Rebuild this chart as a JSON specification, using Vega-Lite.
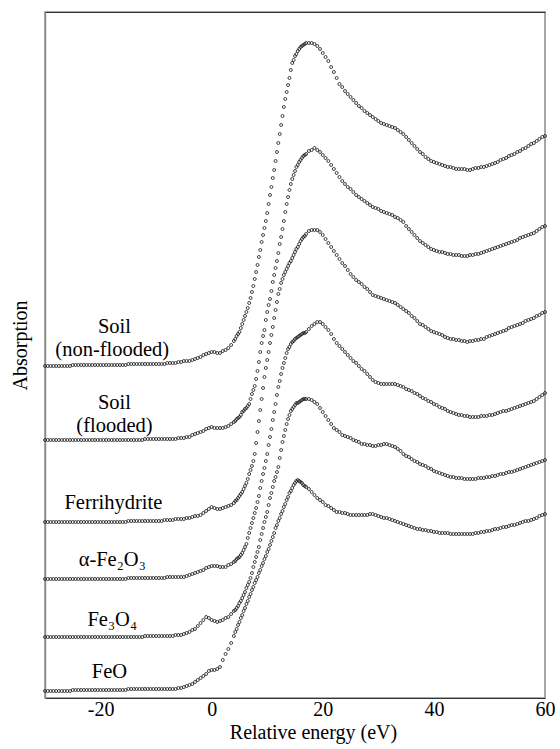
{
"$schema":"https://vega.github.io/schema/vega-lite/v6.json",
"width":500,"height":686,
"autosize":{"type":"none"},
"padding":{"left":45,"top":12,"right":15,"bottom":51},
"background":"white",
"config":{"view":{"stroke":"#8c8c8c","strokeWidth":1.5},"font":"Liberation Serif, Tinos, Times New Roman, Times, DejaVu Serif, serif"},
"datasets":{
"N":[{"e":-30,"a":332},{"e":-29.5,"a":332},{"e":-29,"a":332},{"e":-28.5,"a":332},{"e":-28,"a":332},{"e":-27.5,"a":332},{"e":-27,"a":332},{"e":-26.5,"a":332},{"e":-26,"a":332},{"e":-25.5,"a":332},{"e":-25,"a":333},{"e":-24.5,"a":333},{"e":-24,"a":333},{"e":-23.5,"a":333},{"e":-23,"a":333},{"e":-22.5,"a":333},{"e":-22,"a":333},{"e":-21.5,"a":333},{"e":-21,"a":333},{"e":-20.5,"a":333},{"e":-20,"a":333},{"e":-19.5,"a":333},{"e":-19,"a":333},{"e":-18.5,"a":333},{"e":-18,"a":333},{"e":-17.5,"a":333},{"e":-17,"a":333},{"e":-16.5,"a":333},{"e":-16,"a":333},{"e":-15.5,"a":333},{"e":-15,"a":334},{"e":-14.5,"a":334},{"e":-14,"a":334},{"e":-13.5,"a":334},{"e":-13,"a":334},{"e":-12.5,"a":334},{"e":-12,"a":334},{"e":-11.5,"a":334},{"e":-11,"a":334},{"e":-10.5,"a":334},{"e":-10,"a":334},{"e":-9.5,"a":334},{"e":-9,"a":334},{"e":-8.5,"a":334},{"e":-8,"a":335},{"e":-7.5,"a":335},{"e":-7,"a":335},{"e":-6.5,"a":335},{"e":-6,"a":336},{"e":-5.5,"a":336},{"e":-5,"a":337},{"e":-4.5,"a":337},{"e":-4,"a":337},{"e":-3.5,"a":338},{"e":-3,"a":339},{"e":-2.5,"a":340},{"e":-2,"a":341},{"e":-1.5,"a":343},{"e":-1,"a":344},{"e":-0.5,"a":345},{"e":0,"a":346},{"e":0.5,"a":346},{"e":1,"a":345},{"e":1.5,"a":345},{"e":2,"a":347},{"e":2.5,"a":348},{"e":3,"a":350},{"e":3.5,"a":353},{"e":4,"a":357},{"e":4.25,"a":359},{"e":4.5,"a":362},{"e":4.75,"a":364},{"e":5,"a":366},{"e":5.25,"a":370},{"e":5.5,"a":374},{"e":5.75,"a":378},{"e":6,"a":382},{"e":6.25,"a":386},{"e":6.5,"a":390},{"e":6.75,"a":395},{"e":7,"a":400},{"e":7.25,"a":406},{"e":7.5,"a":412},{"e":7.75,"a":419},{"e":8,"a":426},{"e":8.25,"a":433},{"e":8.5,"a":441},{"e":8.75,"a":448},{"e":9,"a":456},{"e":9.25,"a":463},{"e":9.5,"a":470},{"e":9.75,"a":477},{"e":10,"a":485},{"e":10.25,"a":494},{"e":10.5,"a":503},{"e":10.75,"a":511},{"e":11,"a":520},{"e":11.25,"a":528},{"e":11.5,"a":537},{"e":11.75,"a":546},{"e":12,"a":555},{"e":12.25,"a":564},{"e":12.5,"a":573},{"e":12.75,"a":582},{"e":13,"a":591},{"e":13.25,"a":599},{"e":13.5,"a":606},{"e":13.75,"a":613},{"e":14,"a":620},{"e":14.25,"a":628},{"e":14.5,"a":635},{"e":14.75,"a":638},{"e":15,"a":642},{"e":15.25,"a":644},{"e":15.5,"a":647},{"e":15.75,"a":649},{"e":16,"a":651},{"e":16.25,"a":652},{"e":16.5,"a":653},{"e":16.75,"a":654},{"e":17,"a":655},{"e":17.5,"a":655},{"e":18,"a":655},{"e":18.5,"a":654},{"e":19,"a":652},{"e":19.5,"a":649},{"e":20,"a":645},{"e":20.5,"a":641},{"e":21,"a":637},{"e":21.5,"a":631},{"e":22,"a":626},{"e":22.5,"a":620},{"e":23,"a":614},{"e":23.5,"a":611},{"e":24,"a":607},{"e":24.5,"a":604},{"e":25,"a":601},{"e":25.5,"a":598},{"e":26,"a":595},{"e":26.5,"a":592},{"e":27,"a":590},{"e":27.5,"a":587},{"e":28,"a":585},{"e":28.5,"a":583},{"e":29,"a":581},{"e":29.5,"a":579},{"e":30,"a":577},{"e":30.5,"a":575},{"e":31,"a":574},{"e":31.5,"a":573},{"e":32,"a":572},{"e":32.5,"a":571},{"e":33,"a":570},{"e":33.5,"a":568},{"e":34,"a":566},{"e":34.5,"a":564},{"e":35,"a":561},{"e":35.5,"a":558},{"e":36,"a":555},{"e":36.5,"a":552},{"e":37,"a":549},{"e":37.5,"a":546},{"e":38,"a":544},{"e":38.5,"a":541},{"e":39,"a":539},{"e":39.5,"a":537},{"e":40,"a":536},{"e":40.5,"a":535},{"e":41,"a":534},{"e":41.5,"a":533},{"e":42,"a":532},{"e":42.5,"a":531},{"e":43,"a":531},{"e":43.5,"a":530},{"e":44,"a":529},{"e":44.5,"a":529},{"e":45,"a":529},{"e":45.5,"a":529},{"e":46,"a":528},{"e":46.5,"a":528},{"e":47,"a":529},{"e":47.5,"a":530},{"e":48,"a":530},{"e":48.5,"a":531},{"e":49,"a":531},{"e":49.5,"a":532},{"e":50,"a":533},{"e":50.5,"a":534},{"e":51,"a":535},{"e":51.5,"a":536},{"e":52,"a":538},{"e":52.5,"a":539},{"e":53,"a":540},{"e":53.5,"a":542},{"e":54,"a":543},{"e":54.5,"a":544},{"e":55,"a":546},{"e":55.5,"a":547},{"e":56,"a":549},{"e":56.5,"a":550},{"e":57,"a":552},{"e":57.5,"a":554},{"e":58,"a":555},{"e":58.5,"a":557},{"e":59,"a":559},{"e":59.5,"a":561},{"e":60,"a":562}],
"F":[{"e":-30,"a":258},{"e":-29.5,"a":258},{"e":-29,"a":258},{"e":-28.5,"a":258},{"e":-28,"a":258},{"e":-27.5,"a":258},{"e":-27,"a":258},{"e":-26.5,"a":258},{"e":-26,"a":258},{"e":-25.5,"a":258},{"e":-25,"a":258},{"e":-24.5,"a":258},{"e":-24,"a":258},{"e":-23.5,"a":258},{"e":-23,"a":258},{"e":-22.5,"a":258},{"e":-22,"a":258},{"e":-21.5,"a":258},{"e":-21,"a":258},{"e":-20.5,"a":258},{"e":-20,"a":258},{"e":-19.5,"a":258},{"e":-19,"a":258},{"e":-18.5,"a":258},{"e":-18,"a":258},{"e":-17.5,"a":258},{"e":-17,"a":258},{"e":-16.5,"a":258},{"e":-16,"a":258},{"e":-15.5,"a":258},{"e":-15,"a":258},{"e":-14.5,"a":258},{"e":-14,"a":258},{"e":-13.5,"a":258},{"e":-13,"a":258},{"e":-12.5,"a":258},{"e":-12,"a":259},{"e":-11.5,"a":259},{"e":-11,"a":259},{"e":-10.5,"a":259},{"e":-10,"a":259},{"e":-9.5,"a":259},{"e":-9,"a":259},{"e":-8.5,"a":259},{"e":-8,"a":259},{"e":-7.5,"a":259},{"e":-7,"a":259},{"e":-6.5,"a":259},{"e":-6,"a":260},{"e":-5.5,"a":260},{"e":-5,"a":260},{"e":-4.5,"a":261},{"e":-4,"a":261},{"e":-3.5,"a":263},{"e":-3,"a":264},{"e":-2.5,"a":265},{"e":-2,"a":266},{"e":-1.5,"a":267},{"e":-1,"a":269},{"e":-0.5,"a":270},{"e":0,"a":271},{"e":0.5,"a":270},{"e":1,"a":270},{"e":1.5,"a":270},{"e":2,"a":270},{"e":2.5,"a":271},{"e":3,"a":272},{"e":3.5,"a":274},{"e":4,"a":276},{"e":4.25,"a":277},{"e":4.5,"a":279},{"e":4.75,"a":280},{"e":5,"a":281},{"e":5.25,"a":283},{"e":5.5,"a":286},{"e":5.75,"a":287},{"e":6,"a":289},{"e":6.25,"a":290},{"e":6.5,"a":292},{"e":6.75,"a":294},{"e":7,"a":299},{"e":7.25,"a":304},{"e":7.5,"a":308},{"e":7.75,"a":312},{"e":8,"a":319},{"e":8.25,"a":327},{"e":8.5,"a":336},{"e":8.75,"a":346},{"e":9,"a":355},{"e":9.25,"a":362},{"e":9.5,"a":368},{"e":9.75,"a":378},{"e":10,"a":386},{"e":10.25,"a":393},{"e":10.5,"a":399},{"e":10.75,"a":407},{"e":11,"a":416},{"e":11.25,"a":423},{"e":11.5,"a":430},{"e":11.75,"a":437},{"e":12,"a":445},{"e":12.25,"a":454},{"e":12.5,"a":461},{"e":12.75,"a":469},{"e":13,"a":477},{"e":13.25,"a":486},{"e":13.5,"a":494},{"e":13.75,"a":501},{"e":14,"a":508},{"e":14.25,"a":514},{"e":14.5,"a":519},{"e":14.75,"a":523},{"e":15,"a":527},{"e":15.25,"a":531},{"e":15.5,"a":533},{"e":15.75,"a":536},{"e":16,"a":538},{"e":16.25,"a":540},{"e":16.5,"a":542},{"e":16.75,"a":543},{"e":17,"a":544},{"e":17.5,"a":547},{"e":18,"a":548},{"e":18.5,"a":550},{"e":19,"a":548},{"e":19.5,"a":546},{"e":20,"a":543},{"e":20.5,"a":540},{"e":21,"a":537},{"e":21.5,"a":533},{"e":22,"a":529},{"e":22.5,"a":525},{"e":23,"a":521},{"e":23.5,"a":517},{"e":24,"a":514},{"e":24.5,"a":511},{"e":25,"a":509},{"e":25.5,"a":506},{"e":26,"a":503},{"e":26.5,"a":501},{"e":27,"a":499},{"e":27.5,"a":497},{"e":28,"a":495},{"e":28.5,"a":493},{"e":29,"a":491},{"e":29.5,"a":490},{"e":30,"a":489},{"e":30.5,"a":487},{"e":31,"a":486},{"e":31.5,"a":485},{"e":32,"a":484},{"e":32.5,"a":483},{"e":33,"a":481},{"e":33.5,"a":480},{"e":34,"a":478},{"e":34.5,"a":476},{"e":35,"a":472},{"e":35.5,"a":469},{"e":36,"a":466},{"e":36.5,"a":463},{"e":37,"a":460},{"e":37.5,"a":457},{"e":38,"a":455},{"e":38.5,"a":453},{"e":39,"a":451},{"e":39.5,"a":449},{"e":40,"a":448},{"e":40.5,"a":447},{"e":41,"a":446},{"e":41.5,"a":446},{"e":42,"a":445},{"e":42.5,"a":444},{"e":43,"a":444},{"e":43.5,"a":443},{"e":44,"a":443},{"e":44.5,"a":443},{"e":45,"a":442},{"e":45.5,"a":442},{"e":46,"a":442},{"e":46.5,"a":443},{"e":47,"a":443},{"e":47.5,"a":444},{"e":48,"a":444},{"e":48.5,"a":445},{"e":49,"a":446},{"e":49.5,"a":447},{"e":50,"a":448},{"e":50.5,"a":449},{"e":51,"a":450},{"e":51.5,"a":451},{"e":52,"a":452},{"e":52.5,"a":453},{"e":53,"a":454},{"e":53.5,"a":455},{"e":54,"a":456},{"e":54.5,"a":457},{"e":55,"a":458},{"e":55.5,"a":460},{"e":56,"a":461},{"e":56.5,"a":462},{"e":57,"a":463},{"e":57.5,"a":464},{"e":58,"a":465},{"e":58.5,"a":467},{"e":59,"a":469},{"e":59.5,"a":471},{"e":60,"a":472}],
"H":[{"e":-30,"a":176},{"e":-29.5,"a":176},{"e":-29,"a":176},{"e":-28.5,"a":176},{"e":-28,"a":176},{"e":-27.5,"a":176},{"e":-27,"a":176},{"e":-26.5,"a":176},{"e":-26,"a":176},{"e":-25.5,"a":176},{"e":-25,"a":176},{"e":-24.5,"a":176},{"e":-24,"a":176},{"e":-23.5,"a":176},{"e":-23,"a":176},{"e":-22.5,"a":176},{"e":-22,"a":176},{"e":-21.5,"a":176},{"e":-21,"a":176},{"e":-20.5,"a":176},{"e":-20,"a":176},{"e":-19.5,"a":176},{"e":-19,"a":176},{"e":-18.5,"a":176},{"e":-18,"a":176},{"e":-17.5,"a":176},{"e":-17,"a":176},{"e":-16.5,"a":176},{"e":-16,"a":176},{"e":-15.5,"a":176},{"e":-15,"a":177},{"e":-14.5,"a":177},{"e":-14,"a":177},{"e":-13.5,"a":177},{"e":-13,"a":177},{"e":-12.5,"a":177},{"e":-12,"a":177},{"e":-11.5,"a":177},{"e":-11,"a":177},{"e":-10.5,"a":177},{"e":-10,"a":177},{"e":-9.5,"a":177},{"e":-9,"a":177},{"e":-8.5,"a":178},{"e":-8,"a":178},{"e":-7.5,"a":178},{"e":-7,"a":178},{"e":-6.5,"a":179},{"e":-6,"a":179},{"e":-5.5,"a":179},{"e":-5,"a":179},{"e":-4.5,"a":180},{"e":-4,"a":180},{"e":-3.5,"a":181},{"e":-3,"a":182},{"e":-2.5,"a":182},{"e":-2,"a":183},{"e":-1.5,"a":185},{"e":-1,"a":187},{"e":-0.5,"a":189},{"e":0,"a":191},{"e":0.5,"a":190},{"e":1,"a":189},{"e":1.5,"a":189},{"e":2,"a":190},{"e":2.5,"a":191},{"e":3,"a":192},{"e":3.5,"a":193},{"e":4,"a":195},{"e":4.25,"a":197},{"e":4.5,"a":198},{"e":4.75,"a":200},{"e":5,"a":202},{"e":5.25,"a":204},{"e":5.5,"a":206},{"e":5.75,"a":209},{"e":6,"a":212},{"e":6.25,"a":215},{"e":6.5,"a":219},{"e":6.75,"a":224},{"e":7,"a":228},{"e":7.25,"a":232},{"e":7.5,"a":237},{"e":7.75,"a":244},{"e":8,"a":255},{"e":8.25,"a":266},{"e":8.5,"a":277},{"e":8.75,"a":288},{"e":9,"a":299},{"e":9.25,"a":310},{"e":9.5,"a":321},{"e":9.75,"a":330},{"e":10,"a":338},{"e":10.25,"a":346},{"e":10.5,"a":355},{"e":10.75,"a":363},{"e":11,"a":371},{"e":11.25,"a":380},{"e":11.5,"a":388},{"e":11.75,"a":396},{"e":12,"a":404},{"e":12.25,"a":409},{"e":12.5,"a":415},{"e":12.75,"a":419},{"e":13,"a":423},{"e":13.25,"a":426},{"e":13.5,"a":429},{"e":13.75,"a":432},{"e":14,"a":435},{"e":14.25,"a":437},{"e":14.5,"a":440},{"e":14.75,"a":443},{"e":15,"a":446},{"e":15.25,"a":449},{"e":15.5,"a":451},{"e":15.75,"a":454},{"e":16,"a":457},{"e":16.25,"a":459},{"e":16.5,"a":461},{"e":16.75,"a":462},{"e":17,"a":464},{"e":17.5,"a":467},{"e":18,"a":468},{"e":18.5,"a":468},{"e":19,"a":468},{"e":19.5,"a":466},{"e":20,"a":463},{"e":20.5,"a":459},{"e":21,"a":455},{"e":21.5,"a":451},{"e":22,"a":447},{"e":22.5,"a":443},{"e":23,"a":439},{"e":23.5,"a":435},{"e":24,"a":432},{"e":24.5,"a":428},{"e":25,"a":424},{"e":25.5,"a":421},{"e":26,"a":418},{"e":26.5,"a":416},{"e":27,"a":414},{"e":27.5,"a":411},{"e":28,"a":409},{"e":28.5,"a":406},{"e":29,"a":403},{"e":29.5,"a":402},{"e":30,"a":401},{"e":30.5,"a":400},{"e":31,"a":399},{"e":31.5,"a":398},{"e":32,"a":397},{"e":32.5,"a":396},{"e":33,"a":395},{"e":33.5,"a":393},{"e":34,"a":391},{"e":34.5,"a":389},{"e":35,"a":387},{"e":35.5,"a":385},{"e":36,"a":382},{"e":36.5,"a":380},{"e":37,"a":377},{"e":37.5,"a":374},{"e":38,"a":373},{"e":38.5,"a":371},{"e":39,"a":369},{"e":39.5,"a":367},{"e":40,"a":366},{"e":40.5,"a":365},{"e":41,"a":364},{"e":41.5,"a":363},{"e":42,"a":361},{"e":42.5,"a":360},{"e":43,"a":359},{"e":43.5,"a":359},{"e":44,"a":358},{"e":44.5,"a":358},{"e":45,"a":357},{"e":45.5,"a":357},{"e":46,"a":356},{"e":46.5,"a":357},{"e":47,"a":357},{"e":47.5,"a":358},{"e":48,"a":358},{"e":48.5,"a":359},{"e":49,"a":359},{"e":49.5,"a":361},{"e":50,"a":362},{"e":50.5,"a":363},{"e":51,"a":364},{"e":51.5,"a":365},{"e":52,"a":366},{"e":52.5,"a":367},{"e":53,"a":368},{"e":53.5,"a":370},{"e":54,"a":371},{"e":54.5,"a":372},{"e":55,"a":373},{"e":55.5,"a":374},{"e":56,"a":375},{"e":56.5,"a":377},{"e":57,"a":378},{"e":57.5,"a":379},{"e":58,"a":380},{"e":58.5,"a":382},{"e":59,"a":383},{"e":59.5,"a":385},{"e":60,"a":386}],
"A":[{"e":-30,"a":119},{"e":-29.5,"a":119},{"e":-29,"a":119},{"e":-28.5,"a":119},{"e":-28,"a":119},{"e":-27.5,"a":119},{"e":-27,"a":119},{"e":-26.5,"a":119},{"e":-26,"a":119},{"e":-25.5,"a":119},{"e":-25,"a":119},{"e":-24.5,"a":119},{"e":-24,"a":119},{"e":-23.5,"a":119},{"e":-23,"a":119},{"e":-22.5,"a":119},{"e":-22,"a":119},{"e":-21.5,"a":119},{"e":-21,"a":119},{"e":-20.5,"a":119},{"e":-20,"a":119},{"e":-19.5,"a":119},{"e":-19,"a":119},{"e":-18.5,"a":119},{"e":-18,"a":119},{"e":-17.5,"a":119},{"e":-17,"a":119},{"e":-16.5,"a":119},{"e":-16,"a":119},{"e":-15.5,"a":119},{"e":-15,"a":120},{"e":-14.5,"a":120},{"e":-14,"a":120},{"e":-13.5,"a":120},{"e":-13,"a":120},{"e":-12.5,"a":120},{"e":-12,"a":120},{"e":-11.5,"a":120},{"e":-11,"a":120},{"e":-10.5,"a":120},{"e":-10,"a":120},{"e":-9.5,"a":120},{"e":-9,"a":120},{"e":-8.5,"a":120},{"e":-8,"a":121},{"e":-7.5,"a":121},{"e":-7,"a":121},{"e":-6.5,"a":121},{"e":-6,"a":121},{"e":-5.5,"a":121},{"e":-5,"a":121},{"e":-4.5,"a":122},{"e":-4,"a":123},{"e":-3.5,"a":124},{"e":-3,"a":125},{"e":-2.5,"a":126},{"e":-2,"a":127},{"e":-1.5,"a":128},{"e":-1,"a":130},{"e":-0.5,"a":131},{"e":0,"a":132},{"e":0.5,"a":132},{"e":1,"a":132},{"e":1.5,"a":131},{"e":2,"a":131},{"e":2.5,"a":131},{"e":3,"a":133},{"e":3.5,"a":134},{"e":4,"a":136},{"e":4.25,"a":137},{"e":4.5,"a":139},{"e":4.75,"a":140},{"e":5,"a":141},{"e":5.25,"a":143},{"e":5.5,"a":145},{"e":5.75,"a":148},{"e":6,"a":151},{"e":6.25,"a":154},{"e":6.5,"a":160},{"e":6.75,"a":165},{"e":7,"a":170},{"e":7.25,"a":175},{"e":7.5,"a":180},{"e":7.75,"a":185},{"e":8,"a":190},{"e":8.25,"a":196},{"e":8.5,"a":202},{"e":8.75,"a":210},{"e":9,"a":217},{"e":9.25,"a":224},{"e":9.5,"a":230},{"e":9.75,"a":237},{"e":10,"a":244},{"e":10.25,"a":253},{"e":10.5,"a":261},{"e":10.75,"a":269},{"e":11,"a":278},{"e":11.25,"a":286},{"e":11.5,"a":294},{"e":11.75,"a":303},{"e":12,"a":311},{"e":12.25,"a":317},{"e":12.5,"a":324},{"e":12.75,"a":330},{"e":13,"a":335},{"e":13.25,"a":340},{"e":13.5,"a":345},{"e":13.75,"a":349},{"e":14,"a":351},{"e":14.25,"a":354},{"e":14.5,"a":356},{"e":14.75,"a":357},{"e":15,"a":359},{"e":15.25,"a":360},{"e":15.5,"a":361},{"e":15.75,"a":362},{"e":16,"a":363},{"e":16.25,"a":364},{"e":16.5,"a":365},{"e":16.75,"a":365},{"e":17,"a":366},{"e":17.5,"a":369},{"e":18,"a":372},{"e":18.5,"a":374},{"e":19,"a":376},{"e":19.5,"a":376},{"e":20,"a":374},{"e":20.5,"a":371},{"e":21,"a":368},{"e":21.5,"a":364},{"e":22,"a":359},{"e":22.5,"a":355},{"e":23,"a":352},{"e":23.5,"a":349},{"e":24,"a":346},{"e":24.5,"a":343},{"e":25,"a":340},{"e":25.5,"a":337},{"e":26,"a":335},{"e":26.5,"a":332},{"e":27,"a":329},{"e":27.5,"a":327},{"e":28,"a":324},{"e":28.5,"a":321},{"e":29,"a":318},{"e":29.5,"a":316},{"e":30,"a":315},{"e":30.5,"a":314},{"e":31,"a":314},{"e":31.5,"a":314},{"e":32,"a":314},{"e":32.5,"a":314},{"e":33,"a":314},{"e":33.5,"a":313},{"e":34,"a":312},{"e":34.5,"a":311},{"e":35,"a":309},{"e":35.5,"a":308},{"e":36,"a":307},{"e":36.5,"a":305},{"e":37,"a":304},{"e":37.5,"a":302},{"e":38,"a":300},{"e":38.5,"a":299},{"e":39,"a":297},{"e":39.5,"a":296},{"e":40,"a":294},{"e":40.5,"a":293},{"e":41,"a":291},{"e":41.5,"a":290},{"e":42,"a":289},{"e":42.5,"a":287},{"e":43,"a":286},{"e":43.5,"a":285},{"e":44,"a":284},{"e":44.5,"a":283},{"e":45,"a":283},{"e":45.5,"a":282},{"e":46,"a":282},{"e":46.5,"a":281},{"e":47,"a":281},{"e":47.5,"a":281},{"e":48,"a":281},{"e":48.5,"a":282},{"e":49,"a":282},{"e":49.5,"a":282},{"e":50,"a":283},{"e":50.5,"a":283},{"e":51,"a":284},{"e":51.5,"a":285},{"e":52,"a":286},{"e":52.5,"a":287},{"e":53,"a":287},{"e":53.5,"a":288},{"e":54,"a":289},{"e":54.5,"a":290},{"e":55,"a":291},{"e":55.5,"a":292},{"e":56,"a":293},{"e":56.5,"a":294},{"e":57,"a":295},{"e":57.5,"a":296},{"e":58,"a":297},{"e":58.5,"a":299},{"e":59,"a":301},{"e":59.5,"a":303},{"e":60,"a":305}],
"M":[{"e":-30,"a":61},{"e":-29.5,"a":61},{"e":-29,"a":61},{"e":-28.5,"a":61},{"e":-28,"a":61},{"e":-27.5,"a":61},{"e":-27,"a":61},{"e":-26.5,"a":61},{"e":-26,"a":61},{"e":-25.5,"a":61},{"e":-25,"a":61},{"e":-24.5,"a":61},{"e":-24,"a":61},{"e":-23.5,"a":61},{"e":-23,"a":61},{"e":-22.5,"a":61},{"e":-22,"a":61},{"e":-21.5,"a":61},{"e":-21,"a":61},{"e":-20.5,"a":61},{"e":-20,"a":61},{"e":-19.5,"a":61},{"e":-19,"a":61},{"e":-18.5,"a":61},{"e":-18,"a":61},{"e":-17.5,"a":61},{"e":-17,"a":61},{"e":-16.5,"a":61},{"e":-16,"a":61},{"e":-15.5,"a":61},{"e":-15,"a":61},{"e":-14.5,"a":61},{"e":-14,"a":61},{"e":-13.5,"a":61},{"e":-13,"a":61},{"e":-12.5,"a":61},{"e":-12,"a":62},{"e":-11.5,"a":62},{"e":-11,"a":62},{"e":-10.5,"a":62},{"e":-10,"a":62},{"e":-9.5,"a":62},{"e":-9,"a":62},{"e":-8.5,"a":62},{"e":-8,"a":62},{"e":-7.5,"a":62},{"e":-7,"a":62},{"e":-6.5,"a":63},{"e":-6,"a":63},{"e":-5.5,"a":63},{"e":-5,"a":64},{"e":-4.5,"a":65},{"e":-4,"a":66},{"e":-3.5,"a":68},{"e":-3,"a":69},{"e":-2.5,"a":72},{"e":-2,"a":75},{"e":-1.5,"a":78},{"e":-1,"a":81},{"e":-0.5,"a":80},{"e":0,"a":78},{"e":0.5,"a":77},{"e":1,"a":76},{"e":1.5,"a":77},{"e":2,"a":78},{"e":2.5,"a":80},{"e":3,"a":81},{"e":3.5,"a":84},{"e":4,"a":87},{"e":4.25,"a":88},{"e":4.5,"a":90},{"e":4.75,"a":92},{"e":5,"a":95},{"e":5.25,"a":97},{"e":5.5,"a":100},{"e":5.75,"a":103},{"e":6,"a":106},{"e":6.25,"a":110},{"e":6.5,"a":113},{"e":6.75,"a":116},{"e":7,"a":120},{"e":7.25,"a":125},{"e":7.5,"a":131},{"e":7.75,"a":136},{"e":8,"a":141},{"e":8.25,"a":146},{"e":8.5,"a":151},{"e":8.75,"a":158},{"e":9,"a":164},{"e":9.25,"a":170},{"e":9.5,"a":176},{"e":9.75,"a":181},{"e":10,"a":186},{"e":10.25,"a":193},{"e":10.5,"a":200},{"e":10.75,"a":205},{"e":11,"a":211},{"e":11.25,"a":217},{"e":11.5,"a":221},{"e":11.75,"a":226},{"e":12,"a":231},{"e":12.25,"a":240},{"e":12.5,"a":248},{"e":12.75,"a":256},{"e":13,"a":262},{"e":13.25,"a":268},{"e":13.5,"a":274},{"e":13.75,"a":279},{"e":14,"a":283},{"e":14.25,"a":287},{"e":14.5,"a":289},{"e":14.75,"a":291},{"e":15,"a":293},{"e":15.25,"a":295},{"e":15.5,"a":295},{"e":15.75,"a":296},{"e":16,"a":297},{"e":16.25,"a":298},{"e":16.5,"a":299},{"e":16.75,"a":299},{"e":17,"a":299},{"e":17.5,"a":299},{"e":18,"a":298},{"e":18.5,"a":296},{"e":19,"a":294},{"e":19.5,"a":290},{"e":20,"a":286},{"e":20.5,"a":282},{"e":21,"a":278},{"e":21.5,"a":274},{"e":22,"a":270},{"e":22.5,"a":268},{"e":23,"a":266},{"e":23.5,"a":263},{"e":24,"a":262},{"e":24.5,"a":261},{"e":25,"a":260},{"e":25.5,"a":258},{"e":26,"a":257},{"e":26.5,"a":256},{"e":27,"a":254},{"e":27.5,"a":254},{"e":28,"a":253},{"e":28.5,"a":253},{"e":29,"a":252},{"e":29.5,"a":252},{"e":30,"a":253},{"e":30.5,"a":253},{"e":31,"a":254},{"e":31.5,"a":254},{"e":32,"a":253},{"e":32.5,"a":252},{"e":33,"a":251},{"e":33.5,"a":249},{"e":34,"a":247},{"e":34.5,"a":244},{"e":35,"a":242},{"e":35.5,"a":241},{"e":36,"a":239},{"e":36.5,"a":237},{"e":37,"a":236},{"e":37.5,"a":234},{"e":38,"a":233},{"e":38.5,"a":232},{"e":39,"a":230},{"e":39.5,"a":229},{"e":40,"a":227},{"e":40.5,"a":226},{"e":41,"a":225},{"e":41.5,"a":224},{"e":42,"a":223},{"e":42.5,"a":222},{"e":43,"a":221},{"e":43.5,"a":221},{"e":44,"a":220},{"e":44.5,"a":220},{"e":45,"a":220},{"e":45.5,"a":219},{"e":46,"a":219},{"e":46.5,"a":219},{"e":47,"a":219},{"e":47.5,"a":219},{"e":48,"a":220},{"e":48.5,"a":220},{"e":49,"a":220},{"e":49.5,"a":221},{"e":50,"a":221},{"e":50.5,"a":222},{"e":51,"a":222},{"e":51.5,"a":223},{"e":52,"a":224},{"e":52.5,"a":224},{"e":53,"a":225},{"e":53.5,"a":226},{"e":54,"a":226},{"e":54.5,"a":227},{"e":55,"a":228},{"e":55.5,"a":229},{"e":56,"a":230},{"e":56.5,"a":231},{"e":57,"a":232},{"e":57.5,"a":233},{"e":58,"a":234},{"e":58.5,"a":235},{"e":59,"a":236},{"e":59.5,"a":237},{"e":60,"a":238}],
"O":[{"e":-30,"a":7},{"e":-29.5,"a":7},{"e":-29,"a":7},{"e":-28.5,"a":7},{"e":-28,"a":7},{"e":-27.5,"a":7},{"e":-27,"a":7},{"e":-26.5,"a":7},{"e":-26,"a":7},{"e":-25.5,"a":7},{"e":-25,"a":8},{"e":-24.5,"a":8},{"e":-24,"a":8},{"e":-23.5,"a":8},{"e":-23,"a":8},{"e":-22.5,"a":8},{"e":-22,"a":8},{"e":-21.5,"a":8},{"e":-21,"a":8},{"e":-20.5,"a":8},{"e":-20,"a":8},{"e":-19.5,"a":8},{"e":-19,"a":8},{"e":-18.5,"a":8},{"e":-18,"a":8},{"e":-17.5,"a":8},{"e":-17,"a":8},{"e":-16.5,"a":8},{"e":-16,"a":8},{"e":-15.5,"a":8},{"e":-15,"a":9},{"e":-14.5,"a":9},{"e":-14,"a":9},{"e":-13.5,"a":9},{"e":-13,"a":9},{"e":-12.5,"a":9},{"e":-12,"a":9},{"e":-11.5,"a":9},{"e":-11,"a":9},{"e":-10.5,"a":9},{"e":-10,"a":9},{"e":-9.5,"a":9},{"e":-9,"a":9},{"e":-8.5,"a":9},{"e":-8,"a":9},{"e":-7.5,"a":9},{"e":-7,"a":9},{"e":-6.5,"a":9},{"e":-6,"a":10},{"e":-5.5,"a":10},{"e":-5,"a":11},{"e":-4.5,"a":12},{"e":-4,"a":13},{"e":-3.5,"a":14},{"e":-3,"a":16},{"e":-2.5,"a":18},{"e":-2,"a":20},{"e":-1.5,"a":22},{"e":-1,"a":24},{"e":-0.5,"a":27},{"e":0,"a":28},{"e":0.5,"a":28},{"e":1,"a":29},{"e":1.5,"a":31},{"e":2,"a":38},{"e":2.5,"a":44},{"e":3,"a":49},{"e":3.5,"a":55},{"e":4,"a":62},{"e":4.25,"a":66},{"e":4.5,"a":69},{"e":4.75,"a":73},{"e":5,"a":76},{"e":5.25,"a":80},{"e":5.5,"a":83},{"e":5.75,"a":87},{"e":6,"a":90},{"e":6.25,"a":94},{"e":6.5,"a":97},{"e":6.75,"a":101},{"e":7,"a":104},{"e":7.25,"a":108},{"e":7.5,"a":111},{"e":7.75,"a":115},{"e":8,"a":118},{"e":8.25,"a":121},{"e":8.5,"a":125},{"e":8.75,"a":128},{"e":9,"a":132},{"e":9.25,"a":135},{"e":9.5,"a":139},{"e":9.75,"a":142},{"e":10,"a":146},{"e":10.25,"a":149},{"e":10.5,"a":153},{"e":10.75,"a":157},{"e":11,"a":161},{"e":11.25,"a":165},{"e":11.5,"a":170},{"e":11.75,"a":173},{"e":12,"a":177},{"e":12.25,"a":180},{"e":12.5,"a":184},{"e":12.75,"a":187},{"e":13,"a":191},{"e":13.25,"a":194},{"e":13.5,"a":198},{"e":13.75,"a":201},{"e":14,"a":205},{"e":14.25,"a":207},{"e":14.5,"a":210},{"e":14.75,"a":213},{"e":15,"a":215},{"e":15.25,"a":217},{"e":15.5,"a":218},{"e":15.75,"a":217},{"e":16,"a":216},{"e":16.25,"a":215},{"e":16.5,"a":213},{"e":16.75,"a":212},{"e":17,"a":211},{"e":17.5,"a":209},{"e":18,"a":206},{"e":18.5,"a":203},{"e":19,"a":200},{"e":19.5,"a":198},{"e":20,"a":196},{"e":20.5,"a":193},{"e":21,"a":192},{"e":21.5,"a":190},{"e":22,"a":188},{"e":22.5,"a":186},{"e":23,"a":186},{"e":23.5,"a":185},{"e":24,"a":185},{"e":24.5,"a":184},{"e":25,"a":183},{"e":25.5,"a":183},{"e":26,"a":183},{"e":26.5,"a":183},{"e":27,"a":183},{"e":27.5,"a":183},{"e":28,"a":183},{"e":28.5,"a":184},{"e":29,"a":184},{"e":29.5,"a":183},{"e":30,"a":182},{"e":30.5,"a":181},{"e":31,"a":180},{"e":31.5,"a":180},{"e":32,"a":179},{"e":32.5,"a":178},{"e":33,"a":177},{"e":33.5,"a":176},{"e":34,"a":175},{"e":34.5,"a":174},{"e":35,"a":173},{"e":35.5,"a":172},{"e":36,"a":171},{"e":36.5,"a":170},{"e":37,"a":169},{"e":37.5,"a":169},{"e":38,"a":168},{"e":38.5,"a":168},{"e":39,"a":167},{"e":39.5,"a":167},{"e":40,"a":166},{"e":40.5,"a":166},{"e":41,"a":165},{"e":41.5,"a":165},{"e":42,"a":165},{"e":42.5,"a":165},{"e":43,"a":164},{"e":43.5,"a":164},{"e":44,"a":164},{"e":44.5,"a":164},{"e":45,"a":164},{"e":45.5,"a":164},{"e":46,"a":164},{"e":46.5,"a":164},{"e":47,"a":164},{"e":47.5,"a":165},{"e":48,"a":165},{"e":48.5,"a":166},{"e":49,"a":166},{"e":49.5,"a":167},{"e":50,"a":167},{"e":50.5,"a":168},{"e":51,"a":169},{"e":51.5,"a":169},{"e":52,"a":170},{"e":52.5,"a":171},{"e":53,"a":171},{"e":53.5,"a":172},{"e":54,"a":173},{"e":54.5,"a":173},{"e":55,"a":174},{"e":55.5,"a":175},{"e":56,"a":176},{"e":56.5,"a":177},{"e":57,"a":177},{"e":57.5,"a":178},{"e":58,"a":179},{"e":58.5,"a":180},{"e":59,"a":182},{"e":59.5,"a":183},{"e":60,"a":184}],
"ticks":[{"e":-25,"k":"minor"},{"e":-20,"k":"major"},{"e":-15,"k":"minor"},{"e":-10,"k":"minor"},{"e":-5,"k":"minor"},{"e":0,"k":"major"},{"e":5,"k":"minor"},{"e":10,"k":"minor"},{"e":15,"k":"minor"},{"e":20,"k":"major"},{"e":25,"k":"minor"},{"e":30,"k":"minor"},{"e":35,"k":"minor"},{"e":40,"k":"major"},{"e":45,"k":"minor"},{"e":50,"k":"minor"},{"e":55,"k":"minor"}],
"labels":[{"e":-17.5,"a":371,"t":"Soil"},{"e":-17.9,"a":348,"t":"(non-flooded)"},{"e":-17.5,"a":295,"t":"Soil"},{"e":-17.5,"a":272,"t":"(flooded)"},{"e":-17.7,"a":195,"t":"Ferrihydrite"},{"e":-17.9,"a":138,"t":"α-Fe₂O₃"},{"e":-17.9,"a":78,"t":"Fe₃O₄"},{"e":-18.4,"a":26,"t":"FeO"}]
},
"encoding":{
 "y":{"field":"a","type":"quantitative","scale":{"domain":[0,686],"nice":false,"zero":false},
  "axis":{"orient":"left","title":"Absorption","labels":false,"ticks":false,"domain":true,"domainColor":"#8c8c8c","domainWidth":1.5,"grid":false,"titleFont":"Liberation Serif, Tinos, Times New Roman, Times, DejaVu Serif, serif","titleFontSize":20,"titleFontWeight":"normal","titleColor":"black","titlePadding":15,"titleY":333}}
},
"layer":[
{"data":{"name":"N"},"mark":{"type":"point","shape":"circle","filled":false,"size":9,"stroke":"#1a1a1a","strokeWidth":0.8,"opacity":1},
 "encoding":{
  "x":{"field":"e","type":"quantitative","scale":{"domain":[-30,60],"nice":false,"zero":false},
   "axis":{"orient":"bottom","values":[-30,-20,0,20,40,60],"grid":false,"domain":true,"domainColor":"#333","domainWidth":1,"ticks":false,
    "labelExpr":"datum.value > -30 ? toString(datum.value) : ''","labelFont":"Liberation Serif, Tinos, Times New Roman, Times, DejaVu Serif, serif","labelFontSize":20,"labelColor":"black","labelPadding":1,"labelFlush":false,"labelOverlap":false,
    "title":"Relative energy (eV)","titleFont":"Liberation Serif, Tinos, Times New Roman, Times, DejaVu Serif, serif","titleFontSize":20,"titleFontWeight":"normal","titleColor":"black","titleX":268,"titleY":40,"titleBaseline":"alphabetic"}}}},
{"data":{"name":"F"},"mark":{"type":"point","shape":"circle","filled":false,"size":9,"stroke":"#1a1a1a","strokeWidth":0.8,"opacity":1},
 "encoding":{
  "x":{"field":"e","type":"quantitative","scale":{"domain":[-30,60],"nice":false,"zero":false},
   "axis":{"orient":"top","grid":false,"labels":false,"ticks":false,"title":null,"domain":true,"domainColor":"#333","domainWidth":1}}}},
{"data":{"name":"H"},"mark":{"type":"point","shape":"circle","filled":false,"size":9,"stroke":"#1a1a1a","strokeWidth":0.8,"opacity":1},
 "encoding":{"x":{"field":"e","type":"quantitative","scale":{"domain":[-30,60],"nice":false,"zero":false},"axis":null}}},
{"data":{"name":"A"},"mark":{"type":"point","shape":"circle","filled":false,"size":9,"stroke":"#1a1a1a","strokeWidth":0.8,"opacity":1},
 "encoding":{"x":{"field":"e","type":"quantitative","scale":{"domain":[-30,60],"nice":false,"zero":false},"axis":null}}},
{"data":{"name":"M"},"mark":{"type":"point","shape":"circle","filled":false,"size":9,"stroke":"#1a1a1a","strokeWidth":0.8,"opacity":1},
 "encoding":{"x":{"field":"e","type":"quantitative","scale":{"domain":[-30,60],"nice":false,"zero":false},"axis":null}}},
{"data":{"name":"O"},"mark":{"type":"point","shape":"circle","filled":false,"size":9,"stroke":"#1a1a1a","strokeWidth":0.8,"opacity":1},
 "encoding":{"x":{"field":"e","type":"quantitative","scale":{"domain":[-30,60],"nice":false,"zero":false},"axis":null}}},
{"data":{"name":"ticks"},"transform":[{"filter":"datum.k === 'major'"}],"mark":{"type":"rule","stroke":"#222","strokeWidth":1.2},
 "encoding":{"x":{"field":"e","type":"quantitative","scale":{"domain":[-30,60],"nice":false,"zero":false},"axis":null},"y":{"datum":0},"y2":{"datum":9}}},
{"data":{"name":"ticks"},"transform":[{"filter":"datum.k === 'minor'"}],"mark":{"type":"rule","stroke":"#222","strokeWidth":1.2},
 "encoding":{"x":{"field":"e","type":"quantitative","scale":{"domain":[-30,60],"nice":false,"zero":false},"axis":null},"y":{"datum":0},"y2":{"datum":5}}},
{"data":{"name":"ticks"},"transform":[{"filter":"datum.k === 'major'"}],"mark":{"type":"rule","stroke":"#222","strokeWidth":1.2},
 "encoding":{"x":{"field":"e","type":"quantitative","scale":{"domain":[-30,60],"nice":false,"zero":false},"axis":null},"y":{"datum":686},"y2":{"datum":677}}},
{"data":{"name":"ticks"},"transform":[{"filter":"datum.k === 'minor'"}],"mark":{"type":"rule","stroke":"#222","strokeWidth":1.2},
 "encoding":{"x":{"field":"e","type":"quantitative","scale":{"domain":[-30,60],"nice":false,"zero":false},"axis":null},"y":{"datum":686},"y2":{"datum":681}}},
{"data":{"name":"labels"},"mark":{"type":"text","font":"Liberation Serif, Tinos, Times New Roman, Times, DejaVu Serif, serif","fontSize":20.5,"align":"center","baseline":"middle","color":"black"},
 "encoding":{"x":{"field":"e","type":"quantitative","scale":{"domain":[-30,60],"nice":false,"zero":false},"axis":null},
  "text":{"field":"t","type":"nominal"}}}
],
"resolve":{"axis":{"x":"independent"}}
}
